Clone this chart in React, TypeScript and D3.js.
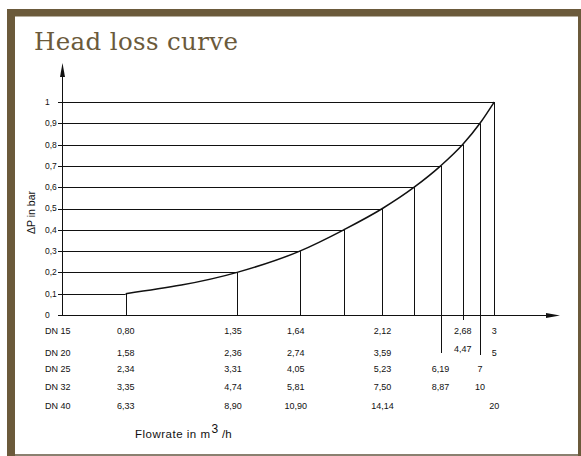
import React, { useEffect, useRef } from 'react'
import * as d3 from 'd3'

// pressure levels drawn as horizontal lines (bar)
const pressures = [0.1, 0.2, 0.3, 0.4, 0.5, 0.6, 0.7, 0.8, 0.9, 1.0]
// DN 15 flowrate where the curve meets each pressure line
const curveFlow = [0.955, 1.35, 1.64, 1.88, 2.12, 2.34, 2.54, 2.72, 2.87, 3.0]

const yTicks = ['0', '0,1', '0,2', '0,3', '0,4', '0,5', '0,6', '0,7', '0,8', '0,9', '1']

// table under the axis: column = pressure line it sits under
const tableColumns = [0.1, 0.2, 0.3, 0.5, 0.7, 0.8, 0.9, 1.0]
const dnLabels = ['DN 15', 'DN 20', 'DN 25', 'DN 32', 'DN 40']
const dn15 = ['0,80', '1,35', '1,64', '2,12', '', '2,68', '', '3']
const dn20 = ['1,58', '2,36', '2,74', '3,59', '', '4,47', '', '5']
const dn25 = ['2,34', '3,31', '4,05', '5,23', '6,19', '', '7', '']
const dn32 = ['3,35', '4,74', '5,81', '7,50', '8,87', '', '10', '']
const dn40 = ['6,33', '8,90', '10,90', '14,14', '', '', '', '20']

const W = 581
const H = 456
const brown = '#6b5a3b'
const sans = '"Liberation Sans", Arial, Helvetica, sans-serif'

const App = () => {
  const ref = useRef<SVGSVGElement>(null)

  useEffect(() => {
    const svg = d3.select(ref.current)
    svg.selectAll('*').remove()

    // slide frame
    svg.append('rect').attr('x', 7).attr('y', 9).attr('width', W - 7).attr('height', H - 9).attr('fill', brown)
    svg.append('rect').attr('x', 15).attr('y', 16.5).attr('width', 563).attr('height', 437.5).attr('fill', '#fff')
    svg.append('rect').attr('x', 15).attr('y', 454).attr('width', 563).attr('height', 2).attr('fill', '#8a8070')

    svg.append('text')
      .attr('x', 34).attr('y', 49.5)
      .attr('font-family', '"DejaVu Serif", serif')
      .attr('font-size', 24.5)
      .attr('textLength', 204)
      .attr('fill', brown)
      .text('Head loss curve')

    const x = d3.scaleLog().domain([0.774, 3.68]).range([58, 560])
    const y = d3.scaleLinear().domain([0, 1]).range([315, 102])
    const axisX = 62.5
    const g = svg.append('g').attr('stroke', '#111').attr('fill', 'none')

    // horizontal lines from the y axis to the curve
    pressures.forEach((p, i) => {
      g.append('line')
        .attr('x1', 58).attr('x2', x(curveFlow[i]))
        .attr('y1', Math.round(y(p)) + 0.5).attr('y2', Math.round(y(p)) + 0.5)
        .attr('stroke-width', 1)
    })

    // verticals from the curve down to the axis (some run into the table)
    const extraDrop: Record<number, number> = { 6: 38, 7: 5, 8: 40 }
    pressures.forEach((p, i) => {
      const xx = Math.round(x(curveFlow[i])) + 0.5
      g.append('line')
        .attr('x1', xx).attr('x2', xx)
        .attr('y1', y(p)).attr('y2', y(0) + (extraDrop[i] || 0))
        .attr('stroke-width', 1)
    })

    // the curve
    const line = d3.line<number>()
      .x((d, i) => x(curveFlow[i]))
      .y((d) => y(d))
      .curve(d3.curveMonotoneX)
    g.append('path').attr('d', line(pressures)).attr('stroke-width', 1.5)

    // axes
    const y0 = Math.round(y(0)) + 0.5
    g.append('line').attr('x1', 58).attr('x2', 550).attr('y1', y0).attr('y2', y0)
    g.append('line').attr('x1', axisX).attr('x2', axisX).attr('y1', y0).attr('y2', 72)
    svg.append('path').attr('d', `M560,${y0} L546,${y0 - 2.5} L546,${y0 + 2.5} Z`).attr('fill', '#111')
    svg.append('path').attr('d', `M${axisX},63 L${axisX - 2.5},77 L${axisX + 2.5},77 Z`).attr('fill', '#111')

    // y tick labels
    svg.append('g').selectAll('text').data(yTicks).enter().append('text')
      .attr('x', 45)
      .attr('y', (d, i) => y(i / 10))
      .attr('dy', '0.35em')
      .attr('font-family', sans)
      .attr('font-size', 8.5)
      .attr('fill', '#111')
      .text((d) => d)

    svg.append('text')
      .attr('transform', 'translate(35,212.5) rotate(-90)')
      .attr('text-anchor', 'middle')
      .attr('font-family', sans)
      .attr('font-size', 10.5)
      .attr('fill', '#111')
      .text('ΔP in bar')

    // table
    const rows = [dn15, dn20, dn25, dn32, dn40]
    const rowY = [334, 355.5, 371.5, 390, 409]
    const tg = svg.append('g').attr('font-family', sans).attr('font-size', 9).attr('fill', '#111')
    dnLabels.forEach((lab, r) => {
      tg.append('text').attr('x', 45).attr('y', rowY[r]).text(lab)
      rows[r].forEach((v, c) => {
        if (!v) return
        const idx = pressures.indexOf(tableColumns[c])
        // the 0,2 and 0,3 columns sit a little left of their lines; 4,47 sits a bit high
        const dx = c === 1 || c === 2 ? -4 : 0
        const dy = r === 1 && c === 5 ? -3.5 : 0
        tg.append('text')
          .attr('x', x(curveFlow[idx]) + dx)
          .attr('y', rowY[r] + dy)
          .attr('text-anchor', 'middle')
          .text(v)
      })
    })

    // x label
    const lg = svg.append('g').attr('font-family', sans).attr('fill', '#111')
    lg.append('text').attr('x', 135).attr('y', 438.3).attr('font-size', 11.5).attr('textLength', 75).text('Flowrate in m')
    lg.append('text').attr('x', 211.5).attr('y', 432.7).attr('font-size', 12).text('3')
    lg.append('text').attr('x', 222).attr('y', 438.3).attr('font-size', 11.5).text('/h')
  }, [])

  return (
    <svg ref={ref} width={W} height={H} style={{ position: 'absolute', left: 0, top: 0, background: '#fff' }} />
  )
}

export default App
